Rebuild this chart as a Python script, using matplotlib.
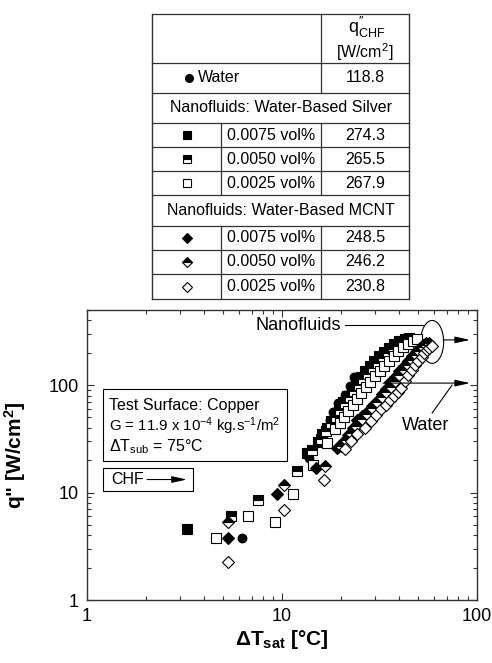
import matplotlib
matplotlib.use('Agg')
import matplotlib.pyplot as plt
from matplotlib.patches import Rectangle, Ellipse
from matplotlib.ticker import NullFormatter

plt.rcParams['font.family'] = ['Liberation Sans', 'DejaVu Sans']
plt.rcParams['mathtext.fontset'] = 'custom'
plt.rcParams['mathtext.rm'] = 'Liberation Sans'
plt.rcParams['mathtext.it'] = 'Liberation Sans:italic'
plt.rcParams['mathtext.bf'] = 'Liberation Sans:bold'

# boiling curves: wall superheat [C] vs heat flux [W/cm2]
water_x = [6.2, 13.8, 15.7, 16.6, 17.6, 18.3, 19.3, 21.0, 22.3, 23.5]
water_y = [3.8, 21.2, 31, 38, 47, 56.5, 68, 80.7, 98, 118.8]

ag75_x = [3.25, 13.5, 15.3, 16.1, 17.0, 17.8, 18.6, 19.5, 20.5, 21.6, 22.8, 24.0, 25.3,
          26.7, 28.2, 29.8, 31.5, 33.4, 35.4, 37.6, 40.0, 42.5, 45.0]
ag75_y = [4.6, 23.2, 29.7, 35.4, 40, 46, 53, 61, 70, 80, 92, 105, 119,
          134, 150, 167, 185, 204, 222, 240, 255, 266, 274.3]

ag50_x = [5.47, 7.5, 12.0, 14.2, 15.8, 16.9, 17.9, 18.9, 19.9, 21.0, 22.2, 23.4, 24.7,
          26.1, 27.6, 29.2, 30.9, 32.8, 34.8, 37.0, 39.3, 41.8, 44.4, 47.0]
ag50_y = [6.1, 8.5, 16.0, 25, 31.5, 37.5, 44, 51, 59, 68, 78, 89, 101,
          114, 128, 144, 161, 179, 198, 216, 233, 248, 259, 265.5]

ag25_x = [4.6, 6.7, 9.2, 11.4, 14.4, 17.0, 18.7, 19.8, 20.8, 21.9, 23.0, 24.2, 25.5,
          26.9, 28.4, 30.0, 31.7, 33.5, 35.4, 37.4, 39.5, 41.8, 44.2, 46.7, 49.2]
ag25_y = [3.8, 6.1, 5.35, 9.8, 18.0, 29, 38.7, 44, 51, 58, 66, 75, 85,
          96, 108, 121, 136, 152, 169, 187, 206, 225, 243, 257, 267.9]

cnt75_x = [5.3, 9.4, 15.0, 19.1, 20.5, 21.8, 23.0, 24.2, 25.7, 27.4, 29.0, 30.9, 32.5,
           34.2, 36.0, 37.9, 39.9, 42.0, 44.2, 46.4, 48.6, 50.8, 53.0, 55.0]
cnt75_y = [3.8, 9.8, 16.8, 26.1, 29.5, 34, 40, 47, 52, 56, 64, 72.5, 82,
           93, 106, 120, 135, 151, 168, 186, 205, 222, 237, 248.5]

cnt50_x = [5.3, 10.2, 16.7, 20.0, 21.3, 22.6, 24.0, 25.6, 27.2, 28.9, 30.6, 32.4, 34.2,
           36.1, 38.0, 40.0, 42.0, 44.1, 46.2, 48.4, 50.6, 52.8, 55.0, 57.0]
cnt50_y = [5.35, 11.7, 17.5, 27, 31, 36, 42, 48, 54, 61, 69, 77, 86,
           97, 109, 123, 138, 154, 171, 189, 207, 224, 237, 246.2]

cnt25_x = [5.3, 10.2, 16.4, 21.0, 22.6, 24.2, 26.7, 28.5, 30.4, 32.3, 34.0, 35.8, 37.5,
           39.3, 41.0, 42.6, 44.2, 46.2, 48.1, 50.0, 52.0, 53.7, 55.3, 57.0, 58.8]
cnt25_y = [2.24, 6.9, 13.1, 25.7, 30, 35.4, 39.5, 46, 53, 60, 66, 72.5, 80,
           87, 95, 109, 124, 138, 153, 168, 182, 197, 212, 222, 230.8]

conc_labels = ['0.0075 vol%', '0.0050 vol%', '0.0025 vol%']
chf_water = 118.8
chf_silver = [274.3, 265.5, 267.9]
chf_mcnt = [248.5, 246.2, 230.8]

series = [(water_x, water_y), (ag75_x, ag75_y), (ag50_x, ag50_y), (ag25_x, ag25_y),
          (cnt75_x, cnt75_y), (cnt50_x, cnt50_y), (cnt25_x, cnt25_y)]

filled = dict(markerfacecolor='k', markeredgecolor='k')
half = dict(markerfacecolor='k', markerfacecoloralt='w', fillstyle='top', markeredgecolor='k')
hollow = dict(markerfacecolor='w', markeredgecolor='k')
styles = [dict(marker='o', ms=6.3, **filled),
          dict(marker='s', ms=7.0, **filled),
          dict(marker='s', ms=7.0, **half),
          dict(marker='s', ms=7.0, **hollow),
          dict(marker='D', ms=6.3, **filled),
          dict(marker='D', ms=6.3, **half),
          dict(marker='D', ms=6.3, **hollow)]

fig = plt.figure(figsize=(4.92, 6.63), dpi=100)

# ---- legend table (drawn in pixel coordinates) ----
tab = fig.add_axes([0, 0, 1, 1])
tab.set_xlim(0, 492)
tab.set_ylim(663, 0)
tab.axis('off')
tab.patch.set_visible(False)

lc = '#333333'
L, C1, C2, R = 152, 221, 321, 409
rows = [14, 63, 93, 123, 147, 171, 195, 226, 250, 274, 299]
for y in rows:
    tab.plot([L, R], [y, y], color=lc, lw=0.9)
tab.plot([L, L], [14, 299], color=lc, lw=1.0)
tab.plot([R, R], [14, 299], color=lc, lw=1.0)
tab.plot([C2, C2], [14, 93], color=lc, lw=0.9)
for a, b in [(123, 195), (226, 299)]:
    tab.plot([C1, C1], [a, b], color=lc, lw=0.9)
    tab.plot([C2, C2], [a, b], color=lc, lw=0.9)

fs_t = 11.5
cv = (C2 + R) / 2
tab.text(cv + 2, 33, r'q$^{\prime\prime}_{\rm CHF}$', ha='center', va='baseline', fontsize=13)
tab.text(cv, 52, '[W/cm$^{2}$]', ha='center', va='center', fontsize=fs_t)

tab.plot([189], [78], ls='none', marker='o', ms=5.5, **filled)
tab.text(198, 78, 'Water', ha='left', va='center', fontsize=fs_t)
tab.text(cv, 78, f'{chf_water:.1f}', ha='center', va='center', fontsize=fs_t)

tab.text((L + R) / 2, 108, 'Nanofluids: Water-Based Silver', ha='center', va='center', fontsize=fs_t)
tab.text((L + R) / 2, 210.5, 'Nanofluids: Water-Based MCNT', ha='center', va='center', fontsize=fs_t)

small = [5.5, 5.5, 5.5, 5.0, 5.0, 5.0]
row_y = [135, 159, 183, 238, 262, 286.5]
chf_all = chf_silver + chf_mcnt
for i in range(6):
    st = dict(styles[i + 1])
    st['ms'] = small[i]
    tab.plot([(L + C1) / 2], [row_y[i]], ls='none', mew=0.8, **st)
    tab.text((C1 + C2) / 2, row_y[i], conc_labels[i % 3], ha='center', va='center', fontsize=fs_t)
    tab.text(cv, row_y[i], f'{chf_all[i]:.1f}', ha='center', va='center', fontsize=fs_t)

# ---- boiling curve plot ----
ax = fig.add_axes([0.1768, 0.0950, 0.7927, 0.4374])
ax.set_xscale('log')
ax.set_yscale('log')
ax.set_xlim(1, 100)
ax.set_ylim(1, 500)

for (x, y), st in zip(series, styles):
    ax.plot(x, y, ls='none', mew=0.8, **st)

ax.set_xticks([1, 10, 100])
ax.set_xticklabels(['1', '10', '100'])
ax.set_yticks([1, 10, 100])
ax.set_yticklabels(['1', '10', '100'])
ax.xaxis.set_minor_formatter(NullFormatter())
ax.yaxis.set_minor_formatter(NullFormatter())
ax.tick_params(which='both', direction='in', top=True, right=True, labelsize=13,
               width=0.8, color='#333333')
ax.tick_params(which='major', length=5, pad=6)
ax.tick_params(which='minor', length=3)
for s in ax.spines.values():
    s.set_linewidth(1.0)
    s.set_color('#333333')

ax.set_xlabel(r'ΔT$_{\mathbf{sat}}$ [°C]', fontsize=15, fontweight='bold')
ax.set_ylabel('q" [W/cm$^{\\mathbf{2}}$]', fontsize=15, fontweight='bold')
ax.xaxis.set_label_coords(0.5, -0.095)
ax.yaxis.set_label_coords(-0.15, 0.5)

tr = ax.transAxes
# annotations
ax.text(0.541, 0.948, 'Nanofluids', ha='center', va='center', fontsize=13, transform=tr)
ax.plot([0.662, 0.862], [0.948, 0.948], color='k', lw=0.8, transform=tr, clip_on=False)
ax.add_patch(Ellipse((0.885, 0.890), 0.059, 0.148, transform=tr, fill=False,
                     edgecolor='k', lw=0.8))
arrow = dict(arrowstyle='-|>,head_length=0.9,head_width=0.2', color='k', lw=0.8,
             shrinkA=0, shrinkB=0, mutation_scale=10)
ax.annotate('', xy=(0.982, 0.897), xytext=(0.913, 0.897), xycoords=tr, arrowprops=arrow)
ax.annotate('', xy=(0.982, 0.748), xytext=(0.759, 0.748), xycoords=tr, arrowprops=arrow)
ax.plot([0.885, 0.936], [0.645, 0.741], color='k', lw=0.8, transform=tr)
ax.text(0.867, 0.603, 'Water', ha='center', va='center', fontsize=13, transform=tr)

ax.add_patch(Rectangle((0.041, 0.479), 0.472, 0.249, transform=tr, facecolor='w',
                       edgecolor='k', lw=0.8, zorder=3))
fs_b = 11.5
ax.text(0.056, 0.672, 'Test Surface: Copper', fontsize=fs_b, va='center', transform=tr, zorder=4)
ax.text(0.056, 0.601, r'G = 11.9 x 10$^{-4}$ kg.s$^{-1}$/m$^{2}$', fontsize=10.8,
        va='center', transform=tr, zorder=4)
ax.text(0.056, 0.528, r'ΔT$_{\rm sub}$ = 75°C', fontsize=fs_b, va='center', transform=tr, zorder=4)

ax.add_patch(Rectangle((0.041, 0.376), 0.231, 0.079, transform=tr, facecolor='w',
                       edgecolor='k', lw=0.8, zorder=3))
ax.text(0.062, 0.4155, 'CHF', fontsize=fs_b, va='center', transform=tr, zorder=4)
ax.annotate('', xy=(0.256, 0.4155), xytext=(0.154, 0.4155), xycoords=tr,
            arrowprops=arrow, zorder=4)

fig.savefig('out.png', dpi=100, facecolor='white')
